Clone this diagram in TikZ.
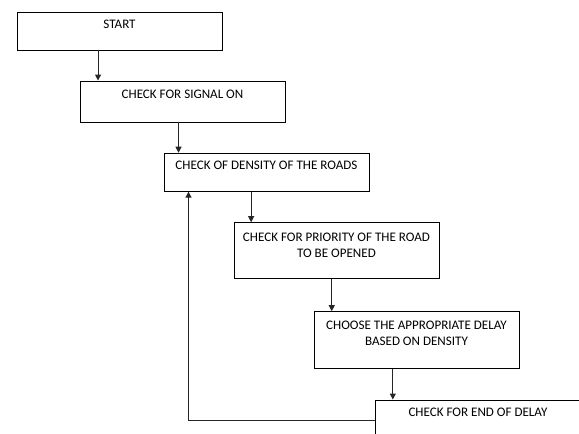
\documentclass[tikz,border=0pt]{standalone}
\usepackage{fontspec}
\setmainfont{Carlito}
\usetikzlibrary{arrows.meta,positioning}

\begin{document}
\begin{tikzpicture}[x=0.75pt,y=-0.75pt,>={Triangle[length=4.5pt,width=4.5pt]},
 b/.style={draw,line width=0.7pt,minimum width=153.75pt,inner sep=0pt},
 t/.style={inner sep=0pt,align=center,font=\fontsize{9.8}{12}\selectfont},
 arr/.style={->,line width=0.7pt,draw=black!85}]
\path[use as bounding box,clip] (0,0) rectangle (579,433);
\node[b,minimum height=28.5pt] (start) at (119.5,31) {};
\node[b,minimum height=30.75pt] (signal) at (182.5,101.5) {};
\node[b,minimum height=28.5pt] (density) at (266.5,172.2) {};
\node[b,minimum height=41.7pt] (priority) at (336.5,250.5) {};
\node[b,minimum height=42.5pt] (delay) at (416.5,340) {};
\node[b,minimum height=36pt] (enddelay) at (478,424) {};
\node[t,below=6.2pt of start.north] (startT) {START};
\node[t,below=6.7pt of signal.north] (signalT) {CHECK FOR SIGNAL ON};
\node[t,below=6.3pt of density.north] (densityT) {CHECK OF DENSITY OF THE ROADS};
\node[t,below=7.9pt of priority.north] (priorityT) {CHECK FOR PRIORITY OF THE ROAD\\TO BE OPENED};
\node[t,below=7.5pt of delay.north] (delayT) {CHOOSE THE APPROPRIATE DELAY\\BASED ON DENSITY};
\node[t,below=5.8pt of enddelay.north] (enddelayT) {CHECK FOR END OF DELAY};
% arrows down the steps
\foreach \a/\b/\d in {start/signal/81.5,signal/density/99,density/priority/87.6,priority/delay/98.2,delay/enddelay/79.3}
  \draw[arr] ([xshift=\d*0.75pt]\a.south west) -- ([xshift=\d*0.75pt]\a.south west |- \b.north);
% loop back
\coordinate (back) at (188.5,420);
\draw[arr] (back -| enddelay.west) -- (back) -- (back |- density.south);
\end{tikzpicture}
\end{document}
